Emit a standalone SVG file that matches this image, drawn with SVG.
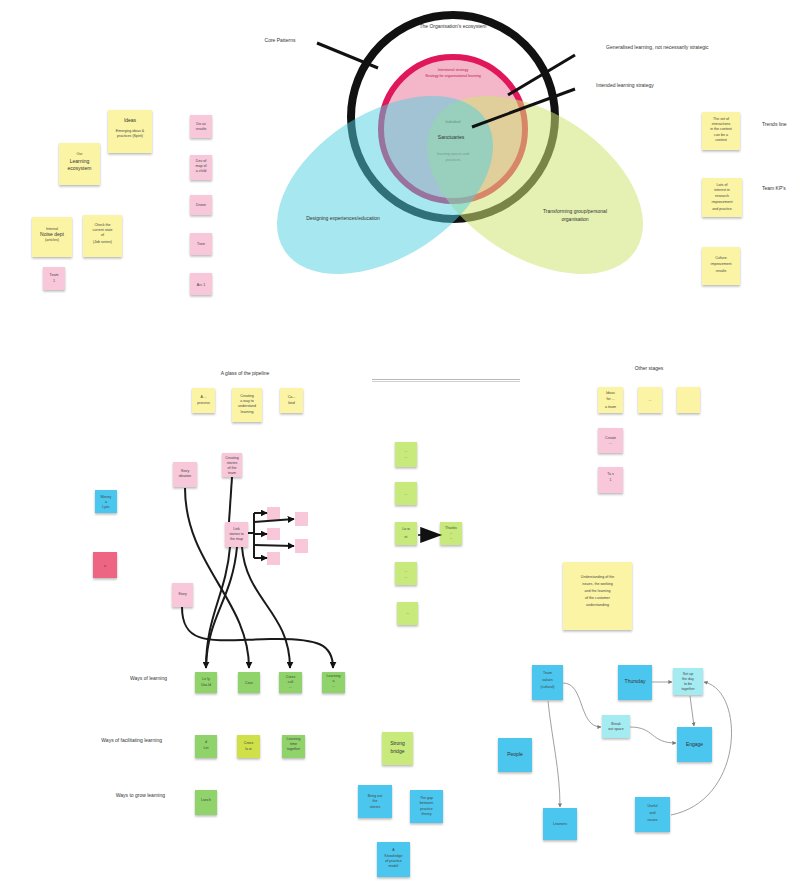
<svg xmlns="http://www.w3.org/2000/svg" width="800" height="881" viewBox="0 0 800 881">
<style>
.y{fill:#fbf4a4}.p{fill:#f9c7da}.g{fill:#8fd36a}.lg{fill:#c8ea7c}.yg{fill:#cfe04a}.b{fill:#4cc6ee}.lc{fill:#a5ebf2}.r{fill:#ee6584}
.s{filter:url(#sh)}
text{font-family:"Liberation Sans",Arial,sans-serif}
.t{font-size:3.6px;fill:#444;text-anchor:middle}
.tb{font-size:5px;fill:#333;text-anchor:middle}
.l{font-size:5px;fill:#333}
.c{fill:none;stroke:#1a1a1a;stroke-width:2}
.cb{fill:none;stroke:#888;stroke-width:0.8}
</style>
<defs>
<filter id="sh" x="-20%" y="-20%" width="140%" height="150%"><feDropShadow dx="0" dy="1.5" stdDeviation="0.8" flood-color="#000" flood-opacity="0.28"/></filter>
<marker id="ah" viewBox="0 0 10 10" refX="9" refY="5" markerWidth="7" markerHeight="7" markerUnits="userSpaceOnUse" orient="auto"><path d="M0,0L10,5L0,10z" fill="#111"/></marker>
<marker id="sa" viewBox="0 0 10 10" refX="9" refY="5" markerWidth="4" markerHeight="4" markerUnits="userSpaceOnUse" orient="auto"><path d="M0,0L10,5L0,10z" fill="#777"/></marker>
</defs>

<!-- Venn diagram -->
<g id="venn">
<circle cx="453" cy="117" r="102" fill="none" stroke="#111" stroke-width="8"/>
<circle cx="453" cy="129" r="72" fill="#f4b6c9" stroke="#e0175a" stroke-width="6"/>
<ellipse cx="535" cy="185" rx="120" ry="72" transform="rotate(33 535 185)" fill="#d0e474" opacity="0.55"/>
<ellipse cx="385" cy="185" rx="120" ry="72" transform="rotate(-33 385 185)" fill="#4fcfe0" opacity="0.5"/>
<text x="453" y="28" class="tb" font-size="4.5">The Organisation's ecosystem</text>
<text x="453" y="71" class="t" fill="#c0185a" style="fill:#c0185a">Intentional strategy</text>
<text x="453" y="77" class="t" style="fill:#c0185a">Strategy for organisational learning</text>
<text x="453" y="123" class="t" style="fill:#6a8a7a">Individual</text>
<text x="451" y="139" class="tb" font-size="4.5">Sanctuaries</text>
<text x="453" y="155" class="t" style="fill:#7a9a8a">learning spaces and</text>
<text x="453" y="161" class="t" style="fill:#7a9a8a">practices</text>
<text x="343" y="220" class="tb" font-size="4.5">Designing experiences/education</text>
<text x="575" y="213" class="tb" font-size="4.5">Transforming group/personal</text>
<text x="575" y="221" class="tb" font-size="4.5">organisation</text>
</g>
<g id="venn-labels">
<line x1="317" y1="43" x2="378" y2="68" stroke="#111" stroke-width="3"/>
<line x1="575" y1="55" x2="508" y2="95" stroke="#111" stroke-width="3"/>
<line x1="575" y1="89" x2="472" y2="127" stroke="#111" stroke-width="3"/>
<text x="280" y="42" class="tb" font-size="4.5">Core Patterns</text>
<text x="606" y="49" class="l" font-size="4.5">Generalised learning, not necessarily strategic</text>
<text x="596" y="87" class="l" font-size="4.5">Intended learning strategy</text>
</g>

<!-- left top stickies -->
<g id="n-ideas"><rect class="y s" x="108" y="110" width="44" height="43"/><text class="tb" x="130" y="122">Ideas</text><text class="t" x="130" y="132">Emerging ideas &amp;</text><text class="t" x="130" y="137">practices (Spirit)</text></g>
<g id="n-eco"><rect class="y s" x="59" y="143" width="41" height="42"/><text class="t" x="79.5" y="155">Our</text><text class="tb" x="79.5" y="163">Learning</text><text class="tb" x="79.5" y="170">ecosystem</text></g>
<g id="n-int"><rect class="y s" x="32" y="217" width="40" height="40"/><text class="t" x="52" y="230">Internal</text><text class="tb" x="52" y="236" font-size="4">Noise dept</text><text class="t" x="52" y="241">(articles)</text></g>
<g id="n-check"><rect class="y s" x="83" y="215" width="39" height="42"/><text class="t" x="102.5" y="226">Check the</text><text class="t" x="102.5" y="231">current state</text><text class="t" x="102.5" y="236">of</text><text class="t" x="102.5" y="243">(Job series)</text></g>
<g id="n-team1"><rect class="p s" x="43" y="267" width="22" height="23"/><text class="t" x="54" y="276">Team</text><text class="t" x="54" y="282">1</text></g>
<g id="n-pk1"><rect class="p s" x="190" y="115" width="22" height="23"/><text class="t" x="201" y="125">Do as</text><text class="t" x="201" y="130">results</text></g>
<g id="n-pk2"><rect class="p s" x="190" y="155" width="22" height="25"/><text class="t" x="201" y="162">Dev of</text><text class="t" x="201" y="167">map of</text><text class="t" x="201" y="172">a child</text></g>
<g id="n-pk3"><rect class="p s" x="190" y="195" width="22" height="20"/><text class="t" x="201" y="206">Drone</text></g>
<g id="n-pk4"><rect class="p s" x="190" y="233" width="22" height="22"/><text class="t" x="201" y="245">Tune</text></g>
<g id="n-pk5"><rect class="p s" x="190" y="273" width="22" height="22"/><text class="t" x="201" y="286">Arc 1</text></g>

<!-- right top stickies -->
<g id="n-r1"><rect class="y s" x="702" y="112" width="38" height="38"/><text class="t" x="721" y="120">The set of</text><text class="t" x="721" y="125">interactions</text><text class="t" x="721" y="130">in the context</text><text class="t" x="721" y="136">can be a</text><text class="t" x="721" y="141">context</text></g>
<g id="n-r2"><rect class="y s" x="702" y="178" width="40" height="39"/><text class="t" x="722" y="186">Lots of</text><text class="t" x="722" y="191">interest in</text><text class="t" x="722" y="197">research</text><text class="t" x="722" y="203">improvement</text><text class="t" x="722" y="210">and practice</text></g>
<g id="n-r3"><rect class="y s" x="702" y="247" width="38" height="38"/><text class="t" x="721" y="259">Culture</text><text class="t" x="721" y="265">improvement</text><text class="t" x="721" y="272">results</text></g>
<text class="l" x="762" y="126" font-size="4.5">Trends line</text>
<text class="l" x="762" y="190" font-size="4.5">Team KP's</text>

<!-- middle section -->
<text class="tb" x="245" y="375" font-size="4.8">A glass of the pipeline</text>
<line x1="372" y1="379.5" x2="520" y2="379.5" stroke="#999" stroke-width="0.7"/>
<line x1="372" y1="381.5" x2="520" y2="381.5" stroke="#bbb" stroke-width="0.7"/>
<g id="n-m1"><rect class="y s" x="192" y="388" width="23" height="25"/><text class="t" x="203.5" y="398">A ...</text><text class="t" x="203.5" y="404">process</text></g>
<g id="n-m2"><rect class="y s" x="232" y="388" width="30" height="34"/><text class="t" x="247" y="397">Creating</text><text class="t" x="247" y="402">a way to</text><text class="t" x="247" y="407">understand</text><text class="t" x="247" y="413">learning</text></g>
<g id="n-m3"><rect class="y s" x="280" y="388" width="23" height="25"/><text class="t" x="291.5" y="398">Ca...</text><text class="t" x="291.5" y="404">kind</text></g>

<!-- pink network -->
<g id="n-pa"><rect class="p s" x="173" y="462" width="24" height="25"/><text class="t" x="185" y="472">Story</text><text class="t" x="185" y="477">ideation</text></g>
<g id="n-pb"><rect class="p s" x="222" y="453" width="20" height="24"/><text class="t" x="232" y="459">Creating</text><text class="t" x="232" y="464">stories</text><text class="t" x="232" y="469">of the</text><text class="t" x="232" y="474">team</text></g>
<g id="n-pc"><rect class="p s" x="225" y="522" width="23" height="25"/><text class="t" x="236.5" y="530">Link</text><text class="t" x="236.5" y="535">stories to</text><text class="t" x="236.5" y="540">the map</text></g>
<g id="n-pd"><rect class="p s" x="172" y="583" width="21" height="24"/><text class="t" x="182.5" y="595">Story</text></g>
<g id="n-s1"><rect class="p" x="267" y="507" width="13" height="13"/></g>
<g id="n-s2"><rect class="p" x="295" y="512" width="13" height="14"/></g>
<g id="n-s3"><rect class="p" x="267" y="528" width="13" height="12"/></g>
<g id="n-s4"><rect class="p" x="295" y="539" width="13" height="14"/></g>
<g id="n-s5"><rect class="p" x="267" y="552" width="13" height="13"/></g>

<!-- left blue / red -->
<g id="n-lb"><rect class="b s" x="95" y="490" width="22" height="23"/><text class="t" x="106" y="498">Money</text><text class="t" x="106" y="503">a</text><text class="t" x="106" y="508">Lyric</text></g>
<g id="n-lr"><rect class="r s" x="93" y="552" width="24" height="26"/><text class="t" x="105" y="567">a</text></g>

<!-- green center column -->
<g id="n-c1"><rect class="lg s" x="395" y="442" width="22" height="25"/><text class="t" x="406" y="452">...</text><text class="t" x="406" y="458">...</text></g>
<g id="n-c2"><rect class="lg s" x="395" y="482" width="22" height="23"/><text class="t" x="406" y="495">...</text></g>
<g id="n-c3"><rect class="lg s" x="395" y="522" width="22" height="23"/><text class="t" x="406" y="530">Lo  w</text><text class="t" x="406" y="538">ni</text></g>
<g id="n-c4"><rect class="lg s" x="395" y="562" width="22" height="23"/><text class="t" x="406" y="572">...</text><text class="t" x="406" y="578">...</text></g>
<g id="n-c5"><rect class="lg s" x="397" y="602" width="21" height="23"/><text class="t" x="407.5" y="614">...</text></g>
<g id="n-c6"><rect class="lg s" x="440" y="522" width="22" height="23"/><text class="t" x="451" y="529">Thanks</text><text class="t" x="451" y="534">...</text><text class="t" x="451" y="539">...</text></g>

<!-- right top section -->
<text class="tb" x="649" y="370" font-size="4.5">Other stages</text>
<g id="n-o1"><rect class="y s" x="598" y="387" width="25" height="26"/><text class="t" x="610.5" y="394">Ideas</text><text class="t" x="610.5" y="400">for    ...</text><text class="t" x="610.5" y="408">a team</text></g>
<g id="n-o2"><rect class="y s" x="638" y="387" width="24" height="26"/><text class="t" x="650" y="401">...</text></g>
<g id="n-o3"><rect class="y s" x="677" y="387" width="23" height="26"/></g>
<g id="n-o4"><rect class="p s" x="598" y="428" width="25" height="25"/><text class="t" x="610.5" y="439">Create</text><text class="t" x="610.5" y="444">...</text></g>
<g id="n-o5"><rect class="p s" x="598" y="467" width="25" height="26"/><text class="t" x="610.5" y="475">Ta s</text><text class="t" x="610.5" y="481">1</text></g>
<g id="n-note"><rect class="y s" x="563" y="562" width="69" height="68"/><text class="t" x="597.5" y="578">Understanding of the</text><text class="t" x="597.5" y="585">issues, the working</text><text class="t" x="597.5" y="592">and the learning</text><text class="t" x="597.5" y="599">of the customer</text><text class="t" x="597.5" y="606">understanding</text></g>

<!-- green rows -->
<text class="l" x="167" y="680" text-anchor="end" font-size="4.5">Ways of learning</text>
<text class="l" x="162" y="742" text-anchor="end" font-size="4.5">Ways of facilitating learning</text>
<text class="l" x="165" y="797" text-anchor="end" font-size="4.5">Ways to grow learning</text>
<g id="n-g1"><rect class="g s" x="195" y="672" width="22" height="21"/><text class="t" x="206" y="680">Le  ly</text><text class="t" x="206" y="686">Usa  ld</text></g>
<g id="n-g2"><rect class="g s" x="238" y="672" width="22" height="21"/><text class="t" x="249" y="684">Cour</text></g>
<g id="n-g3"><rect class="g s" x="279" y="672" width="23" height="21"/><text class="t" x="290.5" y="678">Cross</text><text class="t" x="290.5" y="683">cult</text><text class="t" x="290.5" y="688">...</text></g>
<g id="n-g4"><rect class="g s" x="322" y="672" width="23" height="21"/><text class="t" x="333.5" y="677">Learning</text><text class="t" x="333.5" y="682">a</text><text class="t" x="333.5" y="687">...</text></g>
<g id="n-g5"><rect class="g s" x="195" y="735" width="22" height="23"/><text class="t" x="206" y="743">d</text><text class="t" x="206" y="749">Let</text></g>
<g id="n-g6"><rect class="yg s" x="237" y="735" width="23" height="23"/><text class="t" x="248.5" y="744">Cross</text><text class="t" x="248.5" y="750">lu w</text></g>
<g id="n-g7"><rect class="g s" x="282" y="735" width="23" height="23"/><text class="t" x="293.5" y="740">Learning</text><text class="t" x="293.5" y="745">time</text><text class="t" x="293.5" y="750">together</text></g>
<g id="n-g8"><rect class="g s" x="195" y="790" width="22" height="25"/><text class="t" x="206" y="801">Lunch</text></g>
<g id="n-strong"><rect class="lg s" x="382" y="732" width="31" height="33"/><text class="tb" x="397.5" y="745" font-size="4.5">Strong</text><text class="tb" x="397.5" y="753" font-size="4.5">bridge</text></g>

<!-- blue center -->
<g id="n-bc1"><rect class="b s" x="358" y="785" width="34" height="33"/><text class="t" x="375" y="797">Bring out</text><text class="t" x="375" y="802">the</text><text class="t" x="375" y="808">stories</text></g>
<g id="n-bc2"><rect class="b s" x="410" y="790" width="33" height="33"/><text class="t" x="426.5" y="799">The gap</text><text class="t" x="426.5" y="804">between</text><text class="t" x="426.5" y="810">practice</text><text class="t" x="426.5" y="815">theory</text></g>
<g id="n-bc3"><rect class="b s" x="377" y="842" width="33" height="35"/><text class="t" x="393.5" y="851">A</text><text class="t" x="393.5" y="857">Knowledge</text><text class="t" x="393.5" y="862">of practice</text><text class="t" x="393.5" y="867">model</text></g>

<!-- blue right flow -->
<g id="n-team"><rect class="b s" x="532" y="665" width="31" height="35"/><text class="t" x="547.5" y="674">Team</text><text class="t" x="547.5" y="681">values</text><text class="t" x="547.5" y="688">(cultural)</text></g>
<g id="n-thu"><rect class="b s" x="618" y="665" width="34" height="35"/><text class="tb" x="635" y="683" font-size="4.3">Thursday</text></g>
<g id="n-set"><rect class="lc s" x="673" y="668" width="30" height="27"/><text class="t" x="688" y="675">Set up</text><text class="t" x="688" y="680">the day</text><text class="t" x="688" y="685">to be</text><text class="t" x="688" y="690">together</text></g>
<g id="n-break"><rect class="lc s" x="602" y="715" width="28" height="23"/><text class="t" x="616" y="725">Break</text><text class="t" x="616" y="730">out space</text></g>
<g id="n-engage"><rect class="b s" x="677" y="727" width="35" height="35"/><text class="tb" x="694.5" y="746" font-size="4.5">Engage</text></g>
<g id="n-people"><rect class="b s" x="498" y="738" width="34" height="34"/><text class="tb" x="515" y="756" font-size="4.5">People</text></g>
<g id="n-useful"><rect class="b s" x="635" y="797" width="35" height="35"/><text class="t" x="652.5" y="807">Useful</text><text class="t" x="652.5" y="814">and</text><text class="t" x="652.5" y="821">issues</text></g>
<g id="n-learn"><rect class="b s" x="543" y="808" width="34" height="32"/><text class="t" x="560" y="825">Learners</text></g>

<!-- connectors -->
<g id="connectors">
<path class="c" d="M185,488 C185,565 249,600 249,668" marker-end="url(#ah)"/>
<path class="c" d="M232,477 L229,522"/>
<path class="c" d="M230,547 C226,595 206,615 206,668" marker-end="url(#ah)"/>
<path class="c" d="M237,547 C232,600 208,615 206,666"/>
<path class="c" d="M242,547 C246,600 290,612 290,668" marker-end="url(#ah)"/>
<path class="c" d="M182,607 C182,648 215,640 270,639 C320,638 333,645 333,668" marker-end="url(#ah)"/>
<path class="c" d="M248,533 L254,533 M254,513 L254,558" stroke-width="1.6"/>
<path class="c" d="M254,513 L267,513" stroke-width="1.4" marker-end="url(#ah)"/>
<path class="c" d="M254,522 L294,519" stroke-width="1.4" marker-end="url(#ah)"/>
<path class="c" d="M254,534 L267,534" stroke-width="1.4" marker-end="url(#ah)"/>
<path class="c" d="M254,545 L294,546" stroke-width="1.4" marker-end="url(#ah)"/>
<path class="c" d="M254,558 L267,558" stroke-width="1.4" marker-end="url(#ah)"/>
<path d="M418,535 L424,535 M421,528 L440,535 L421,542 Z" fill="#111" stroke="#111" stroke-width="1.5"/>
<path class="cb" d="M563,683 C585,683 578,727 601,727" marker-end="url(#sa)"/>
<path class="cb" d="M630,727 C655,727 650,743 676,743" marker-end="url(#sa)"/>
<path class="cb" d="M652,682 L672,682" marker-end="url(#sa)"/>
<path class="cb" d="M690,696 L694,726" marker-end="url(#sa)"/>
<path class="cb" d="M671,815 C745,800 745,690 704,682" marker-end="url(#sa)"/>
<path class="cb" d="M548,701 C552,740 560,770 560,807" marker-end="url(#sa)"/>
</g>
</svg>
